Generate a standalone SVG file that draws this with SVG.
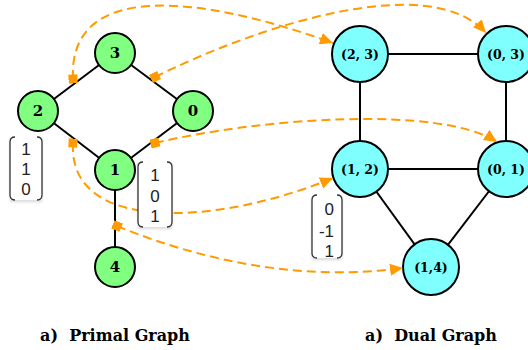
<svg xmlns="http://www.w3.org/2000/svg" width="528" height="350" viewBox="0 0 528 350">
<style>
.edge{stroke:#000;stroke-width:2;fill:none}
.pn{fill:#80ff80;stroke:#000;stroke-width:2}
.dn{fill:#80ffff;stroke:#000;stroke-width:2}
.pl{font-family:"DejaVu Serif",serif;font-weight:bold;font-size:15px;text-anchor:middle}
.dl{font-family:"DejaVu Serif",serif;font-weight:bold;font-size:12.5px;text-anchor:middle}
.map{stroke:#ff9a00;stroke-width:2;fill:none;stroke-dasharray:9 5;marker-start:url(#sq);marker-end:url(#ah)}
.vbox{fill:#fff;stroke:none}
.br{fill:none;stroke:#333;stroke-width:1.3}
.vt{font-family:"Liberation Sans",Arial,sans-serif;font-size:17px;fill:#222}
.title{font-family:"DejaVu Serif",serif;font-weight:bold;font-size:16px;text-anchor:middle;white-space:pre}
</style>
<defs>
<marker id="ah" markerUnits="userSpaceOnUse" markerWidth="14" markerHeight="12" refX="13" refY="6" orient="auto"><path d="M0,0 L13,6 L0,12 Z" fill="#ff9a00"/></marker>
<marker id="sq" markerUnits="userSpaceOnUse" markerWidth="10" markerHeight="10" refX="4.5" refY="4.5" orient="auto"><rect width="9" height="9" fill="#ff9a00"/></marker>
<filter id="sh" x="-20%" y="-20%" width="140%" height="140%"><feDropShadow dx="0" dy="2" stdDeviation="1.5" flood-color="#000" flood-opacity="0.15"/></filter>
</defs>
<g id="edges">
<line class="edge" x1="115" y1="53" x2="38" y2="111"/>
<line class="edge" x1="115" y1="53" x2="193" y2="111"/>
<line class="edge" x1="38" y1="111" x2="115" y2="170"/>
<line class="edge" x1="193" y1="111" x2="115" y2="170"/>
<line class="edge" x1="115" y1="170" x2="115" y2="267"/>
<line class="edge" x1="360" y1="54" x2="506" y2="54"/>
<line class="edge" x1="360" y1="54" x2="360" y2="169"/>
<line class="edge" x1="506" y1="54" x2="506" y2="169"/>
<line class="edge" x1="360" y1="169" x2="506" y2="169"/>
<line class="edge" x1="360" y1="169" x2="431" y2="267"/>
<line class="edge" x1="506" y1="169" x2="431" y2="267"/>
</g>
<g id="p3"><circle class="pn" cx="115" cy="53" r="20"/><text class="pl" x="115" y="58">3</text></g>
<g id="p2"><circle class="pn" cx="38" cy="111" r="20"/><text class="pl" x="38" y="116">2</text></g>
<g id="p0"><circle class="pn" cx="193" cy="111" r="20"/><text class="pl" x="193" y="116">0</text></g>
<g id="p1"><circle class="pn" cx="115" cy="170" r="20"/><text class="pl" x="115" y="175">1</text></g>
<g id="p4"><circle class="pn" cx="115" cy="267" r="20"/><text class="pl" x="115" y="272">4</text></g>
<g id="d23"><circle class="dn" cx="360" cy="54" r="28"/><text class="dl" x="360" y="58.5">(2, 3)</text></g>
<g id="d03"><circle class="dn" cx="506" cy="54" r="28"/><text class="dl" x="506" y="58.5">(0, 3)</text></g>
<g id="d12"><circle class="dn" cx="360" cy="169" r="28"/><text class="dl" x="360" y="173.5">(1, 2)</text></g>
<g id="d01"><circle class="dn" cx="506" cy="169" r="28"/><text class="dl" x="506" y="173.5">(0, 1)</text></g>
<g id="d14"><circle class="dn" cx="431" cy="267" r="28"/><text class="dl" x="431" y="271.5">(1,4)</text></g>
<g id="connectors">
<path class="map" d="M73,79 C68,-20 200,-5 333,43"/>
<path class="map" d="M155,77 C260,25 430,-30 486,33"/>
<path class="map" d="M155,143 C260,118 440,105 497,142"/>
<path class="map" d="M73,143 C68,235 220,225 333,178"/>
<path class="map" d="M117,226 C200,260 300,282 403,268"/>
</g>
<g id="v1">
<rect class="vbox" x="10" y="137" width="32" height="63" filter="url(#sh)"/>
<path class="br" d="M15,137 Q10,137 10,142 L10,195 Q10,200 15,200 M37,137 Q42,137 42,142 L42,195 Q42,200 37,200"/>
<text class="vt" x="26" y="155" text-anchor="middle">1</text>
<text class="vt" x="26" y="175" text-anchor="middle">1</text>
<text class="vt" x="26" y="195" text-anchor="middle">0</text>
</g>
<g id="v2">
<rect class="vbox" x="138" y="162" width="34" height="65" filter="url(#sh)"/>
<path class="br" d="M143,162 Q138,162 138,167 L138,222 Q138,227 143,227 M167,162 Q172,162 172,167 L172,222 Q172,227 167,227"/>
<text class="vt" x="155" y="181" text-anchor="middle">1</text>
<text class="vt" x="155" y="202" text-anchor="middle">0</text>
<text class="vt" x="155" y="222" text-anchor="middle">1</text>
</g>
<g id="v3">
<rect class="vbox" x="312" y="195" width="30" height="63" filter="url(#sh)"/>
<path class="br" d="M317,195 Q312,195 312,200 L312,253 Q312,258 317,258 M337,195 Q342,195 342,200 L342,253 Q342,258 337,258"/>
<text class="vt" x="334" y="215" text-anchor="end">0</text>
<text class="vt" x="334" y="237" text-anchor="end">-1</text>
<text class="vt" x="334" y="257" text-anchor="end">1</text>
</g>
<text class="title" x="115" y="341">a)  Primal Graph</text>
<text class="title" x="431" y="341">a)  Dual Graph</text>
</svg>
